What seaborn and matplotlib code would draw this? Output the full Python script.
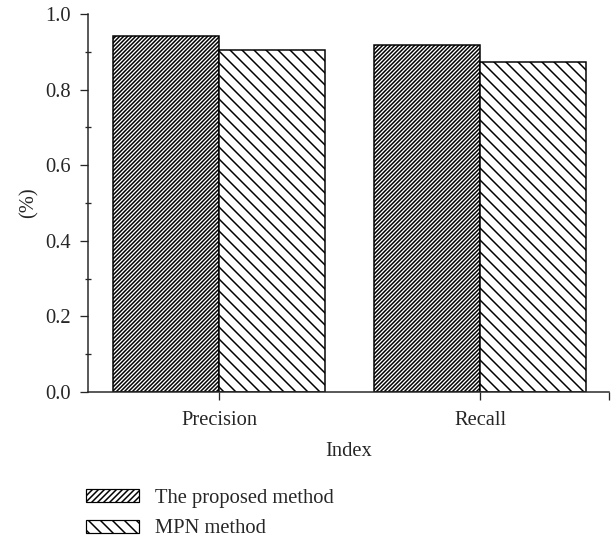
import matplotlib
matplotlib.use("Agg")
import matplotlib.pyplot as plt
from matplotlib.patches import Patch
from matplotlib.ticker import MultipleLocator, FixedLocator
import pandas as pd
import seaborn as sns

# Evaluation results per index
categories = ["Precision", "Recall"]
methods = ["The proposed method", "MPN method"]
proposed_values = [0.942, 0.918]
mpn_values = [0.905, 0.873]
hatches = ["//////", "\\\\"]

df = pd.DataFrame({
    "Index": categories * 2,
    "value": proposed_values + mpn_values,
    "method": [methods[0]] * 2 + [methods[1]] * 2,
})

sns.set_style("ticks")
plt.rcParams["font.family"] = ["Liberation Serif", "DejaVu Serif"]
plt.rcParams["hatch.linewidth"] = 1.5
plt.rcParams["hatch.color"] = "black"

FS = 20.5
DPI = 72
fig = plt.figure(figsize=(612 / DPI, 542 / DPI), dpi=DPI)
ax = fig.add_axes([88 / 612, 1 - 392 / 542, (609 - 88) / 612, (392 - 14) / 542])

sns.barplot(data=df, x="Index", y="value", hue="method", hue_order=methods,
            order=categories, ax=ax, width=0.81,
            palette=["white", "white"], edgecolor="black", linewidth=1.5,
            legend=False)

for cont, h in zip(ax.containers, hatches):
    for bar in cont:
        bar.set_hatch(h)
        bar.set_edgecolor("black")

ax.set_xlim(-0.502, 1.494)
ax.set_ylim(0, 1.0)
ax.yaxis.set_major_locator(MultipleLocator(0.2))
ax.yaxis.set_minor_locator(MultipleLocator(0.1))
ax.xaxis.set_minor_locator(FixedLocator([1.494]))
ax.set_yticklabels([f"{v:.1f}" for v in ax.get_yticks()])

ax.tick_params(axis="y", which="major", direction="out", length=8, width=1.3,
               labelsize=FS, pad=9)
ax.tick_params(axis="y", which="minor", direction="inout", length=6, width=1.3)
ax.tick_params(axis="x", which="major", direction="out", length=8, width=1.3,
               labelsize=FS, pad=11)
ax.tick_params(axis="x", which="minor", direction="out", length=8, width=1.3)

for side in ["top", "right"]:
    ax.spines[side].set_visible(False)
for side in ["left", "bottom"]:
    ax.spines[side].set_linewidth(1.5)

ax.set_xlabel("Index", fontsize=FS, labelpad=12)
ax.set_ylabel("(%)", fontsize=FS, labelpad=7)

handles = [Patch(facecolor="white", edgecolor="black", hatch=h, linewidth=1.2)
           for h in ["////", "\\\\"]]
fig.legend(handles, methods, loc="upper left",
           bbox_to_anchor=(86 / 612, 1 - 489 / 542), frameon=False,
           fontsize=FS, handlelength=2.6, handleheight=0.6,
           handletextpad=0.75, labelspacing=0.55, borderpad=0, borderaxespad=0)

fig.savefig("out.png", dpi=DPI)
